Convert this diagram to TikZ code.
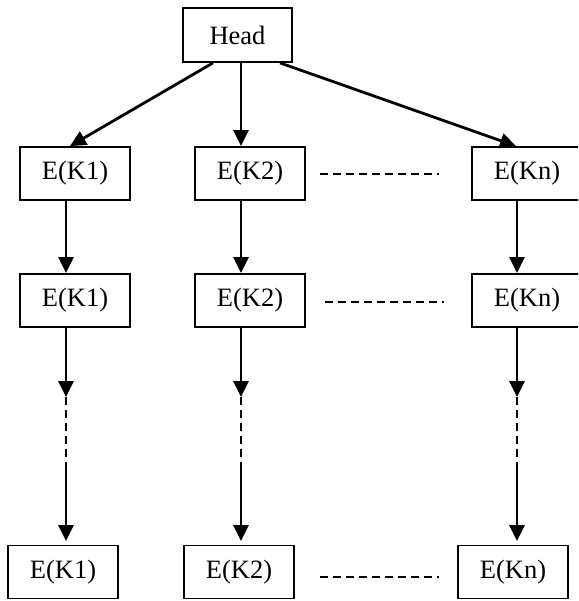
\documentclass[tikz,border=0pt]{standalone}
\usepackage{fontspec}
\setmainfont{Liberation Serif}
\usetikzlibrary{arrows.meta}
\begin{document}
\begin{tikzpicture}[x=1pt,y=-1pt,
  box/.style={draw,line width=1.8pt,minimum width=110pt,minimum height=53pt,inner sep=0pt,
    font=\fontsize{26.5}{30}\selectfont},
  arr/.style={line width=2.8pt,-{Triangle[length=16pt,width=15pt]}},
  dline/.style={line width=1.9pt,dash pattern=on 8pt off 5pt}]
\clip (0,0) rectangle (578,601);
% nodes
\node[box,minimum width=109pt,minimum height=54pt] (head) at (237.5,35) {Head};
\node[box] (a1) at (75,173.5) {E(K1)};
\node[box] (a2) at (250,173.5) {E(K2)};
\node[box] (a3) at (527,173.5) {E(Kn)};
\node[box] (b1) at (75,300.5) {E(K1)};
\node[box] (b2) at (250,300.5) {E(K2)};
\node[box] (b3) at (527,300.5) {E(Kn)};
\node[box] (r1) at (63,572) {E(K1)};
\node[box] (r2) at (239,572) {E(K2)};
\node[box] (r3) at (513,572) {E(Kn)};
% column coordinates
\coordinate (k1) at (66,0);
\coordinate (k2) at (241,0);
\coordinate (k3) at (517,0);
\coordinate (p1) at (66,397);
\coordinate (p2) at (241,397);
\coordinate (p3) at (517,397);
\coordinate (q1) at (66,463);
\coordinate (q2) at (241,463);
\coordinate (q3) at (517,463);
\coordinate (s1) at (66,541);
\coordinate (s2) at (241,541);
\coordinate (s3) at (517,541);
% head arrows
\draw[arr] ([xshift=-24.5pt]head.south) -- ([xshift=-5pt]a1.north);
\draw[arr] ([xshift=3.5pt]head.south) -- ([xshift=-9pt]a2.north);
\draw[arr] ([xshift=42.5pt]head.south) -- ([xshift=-11pt]a3.north);
% column arrows
\foreach \i in {1,2,3}{
  \draw[arr] (k\i |- a\i.south) -- (k\i |- b\i.north);
  \draw[arr] (k\i |- b\i.south) -- (p\i);
  \draw[dline] (p\i) -- (q\i);
  \draw[arr] (q\i) -- (s\i);
}
% horizontal ellipses
\coordinate (h1a) at (320,174); \coordinate (h1b) at (439,174);
\coordinate (h2a) at (325,302); \coordinate (h2b) at (444,302);
\coordinate (h3a) at (320,577); \coordinate (h3b) at (439,577);
\draw[dline] (h1a) -- (h1b);
\draw[dline] (h2a) -- (h2b);
\draw[dline] (h3a) -- (h3b);
\end{tikzpicture}
\end{document}
